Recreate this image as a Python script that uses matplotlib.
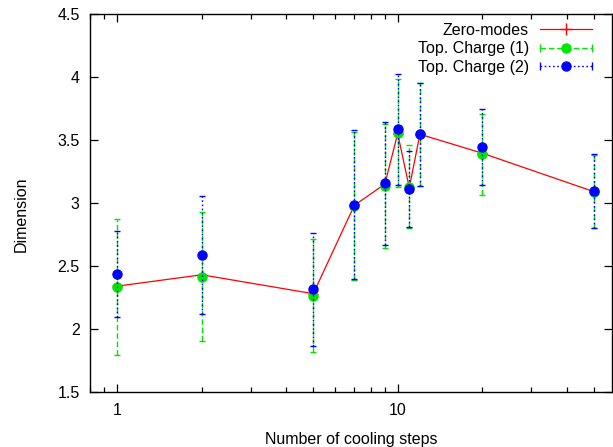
import matplotlib
matplotlib.use('Agg')
import matplotlib.pyplot as plt
from matplotlib.lines import Line2D
from matplotlib.legend_handler import HandlerLine2D, HandlerTuple
from matplotlib.ticker import FixedLocator, FixedFormatter, LogLocator, NullFormatter

plt.rcParams['font.family'] = ['Liberation Sans', 'DejaVu Sans']

# cooling steps
steps = [1, 2, 5, 7, 9, 10, 11, 12, 20, 50]

# zero-mode dimension
zero_modes = [2.34, 2.43, 2.28, 2.98, 3.15, 3.55, 3.12, 3.545, 3.395, 3.09]

# topological charge estimates with errors
tc1 = [2.33, 2.415, 2.265, 2.975, 3.135, 3.555, 3.13, 3.545, 3.385, 3.09]
tc1_err = [0.54, 0.51, 0.45, 0.59, 0.49, 0.43, 0.33, 0.41, 0.32, 0.29]
tc2 = [2.435, 2.585, 2.315, 2.985, 3.155, 3.585, 3.11, 3.545, 3.445, 3.095]
tc2_err = [0.34, 0.47, 0.45, 0.59, 0.485, 0.44, 0.30, 0.41, 0.30, 0.29]

RED = '#ff0000'
GREEN = '#00e600'
BLUE = '#0000ff'

fig = plt.figure(figsize=(6.13, 4.47), dpi=100)
ax = fig.add_axes([0.147, 0.123, 0.851, 0.846])

ax.plot(steps, zero_modes, color=RED, lw=0.9, marker='+', ms=7, zorder=2)

eb1 = ax.errorbar(steps, tc1, yerr=tc1_err, fmt='o', color=GREEN, ms=6.5,
                  ecolor=GREEN, elinewidth=1.0, capsize=2.5, capthick=1.0, zorder=3)
eb1[2][0].set_linestyle((0, (4, 2)))

eb2 = ax.errorbar(steps, tc2, yerr=tc2_err, fmt='o', color=BLUE, ms=6.5,
                  ecolor=BLUE, elinewidth=1.0, capsize=2.5, capthick=1.0, zorder=4)
eb2[2][0].set_linestyle((0, (1.2, 1.8)))

ax.set_xscale('log')
ax.set_xlim(0.8, 58)
ax.set_ylim(1.5, 4.5)
ax.xaxis.set_major_locator(FixedLocator([1, 10]))
ax.xaxis.set_major_formatter(FixedFormatter(['1', '10']))
ax.xaxis.set_minor_locator(LogLocator(base=10, subs=range(2, 10)))
ax.xaxis.set_minor_formatter(NullFormatter())
ax.set_yticks([1.5, 2, 2.5, 3, 3.5, 4, 4.5])
ax.set_yticklabels(['1.5', '2', '2.5', '3', '3.5', '4', '4.5'])

ax.tick_params(which='both', direction='in', top=True, right=True, labelsize=11.5)
ax.tick_params(axis='x', pad=8)
ax.tick_params(axis='y', pad=7.5)
ax.tick_params(which='major', length=6, width=0.9)
ax.tick_params(which='minor', length=3.5, width=0.9)
for s in ax.spines.values():
    s.set_linewidth(1.0)

ax.set_xlabel('Number of cooling steps', fontsize=11.5, labelpad=10)
ax.set_ylabel('Dimension', fontsize=11.5, labelpad=22)
ax.yaxis.set_label_coords(-0.118, 0.47)

# gnuplot-like legend entries: line sample with end caps and a point in the middle
h_red = Line2D([], [], color=RED, lw=0.9, marker='+', ms=8)
cap_g = Line2D([], [], color=GREEN, lw=1.0, ls=(0, (4, 2)), marker='|', ms=6)
dot_g = Line2D([], [], color=GREEN, ls='none', marker='o', ms=6.5)
cap_b = Line2D([], [], color=BLUE, lw=1.0, ls=(0, (1.2, 1.8)), marker='|', ms=6)
dot_b = Line2D([], [], color=BLUE, ls='none', marker='o', ms=6.5)

hmap = {
    cap_g: HandlerLine2D(numpoints=2, marker_pad=0),
    cap_b: HandlerLine2D(numpoints=2, marker_pad=0),
    dot_g: HandlerLine2D(numpoints=1),
    dot_b: HandlerLine2D(numpoints=1),
    tuple: HandlerTuple(ndivide=1),
}
leg = ax.legend([h_red, (cap_g, dot_g), (cap_b, dot_b)],
                ['Zero-modes', 'Top. Charge (1)', 'Top. Charge (2)'],
                handler_map=hmap, loc='upper right', bbox_to_anchor=(0.962, 0.976),
                markerfirst=False, frameon=False, fontsize=11.5,
                handlelength=3.25, handletextpad=0.7,
                labelspacing=0.22, borderaxespad=0, borderpad=0)
for t in leg.get_texts():
    t.set_ha('right')

fig.savefig('out.png', dpi=100)
